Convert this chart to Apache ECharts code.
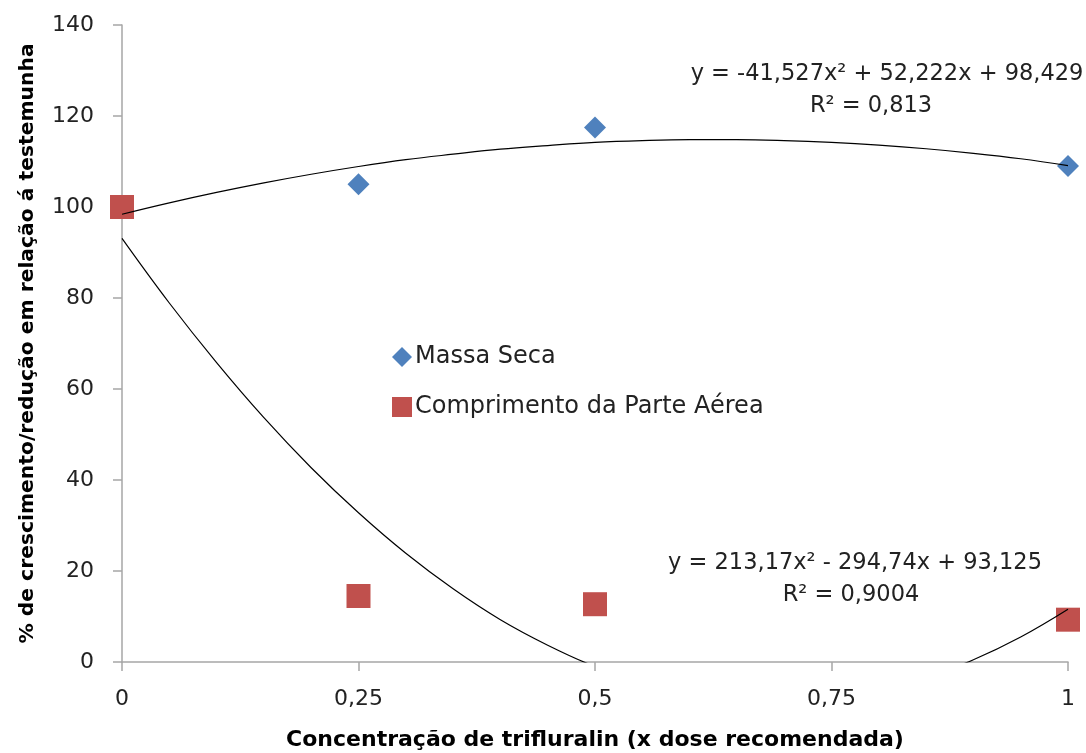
<!DOCTYPE html>
<html>
<head>
<meta charset="utf-8">
<script src="https://cdn.jsdelivr.net/npm/echarts@6/dist/echarts.min.js"></script>
<style>
html,body{margin:0;padding:0;background:#fff;}
#chart{width:1086px;height:753px;}
</style>
</head>
<body>
<div id="chart"></div>
<script>
// Observed points
const doses = [0, 0.25, 0.5, 1];
const massaSeca = [100, 105, 117.5, 109];
const comprimento = [100, 14.5, 12.7, 9.3];

// Trend curves
const trendX = [0, 0.05, 0.1, 0.15, 0.2, 0.25, 0.3, 0.35, 0.4, 0.45, 0.5, 0.55, 0.6, 0.65, 0.7, 0.75, 0.8, 0.85, 0.9, 0.95, 1];
const massaTrend = [98.4, 100.9, 103.2, 105.3, 107.2, 108.9, 110.4, 111.6, 112.7, 113.5, 114.2, 114.6, 114.8, 114.8, 114.6, 114.2, 113.6, 112.8, 111.8, 110.6, 109.1];
const compTrend = [93.1, 78.9, 65.8, 53.7, 42.7, 32.8, 23.9, 16.1, 9.3, 3.7, -1.0, -4.5, -7.0, -8.4, -8.7, -8.0, -6.2, -3.4, 0.5, 5.5, 11.6];

// Axis ticks
const xTicks = [0, 0.25, 0.5, 0.75, 1];
const xTickLabels = ['0', '0,25', '0,5', '0,75', '1'];
const yTicks = [0, 20, 40, 60, 80, 100, 120, 140];

// Texts
const eq1 = 'y = -41,527x² + 52,222x + 98,429';
const r1 = 'R² = 0,813';
const eq2 = 'y = 213,17x² - 294,74x + 93,125';
const r2 = 'R² = 0,9004';

const FONT = '"DejaVu Sans", "Open Sans", sans-serif';
const TXT = '#222222';
const chart = echarts.init(document.getElementById('chart'), null, {renderer: 'canvas'});

const zip = (xs, ys) => xs.map((x, i) => [x, ys[i]]);

chart.setOption({
  backgroundColor: '#ffffff',
  animation: false,
  grid: {left: 122, right: 18, top: 25, bottom: 91, containLabel: false, outerBoundsMode: 'none'},
  legend: {
    data: [
      {name: 'Massa Seca', icon: 'diamond'},
      {name: 'Comprimento da Parte Aérea', icon: 'rect'}
    ],
    orient: 'vertical',
    left: 387,
    top: 338,
    itemGap: 22,
    itemWidth: 20,
    itemHeight: 20,
    textStyle: {fontFamily: FONT, fontSize: 24, lineHeight: 28, color: TXT, padding: [0, 0, 0, -2]}
  },
  xAxis: {
    type: 'value',
    min: 0, max: 1, interval: 0.25,
    name: 'Concentração de trifluralin (x dose recomendada)',
    nameLocation: 'middle',
    nameGap: 67,
    nameTextStyle: {fontFamily: FONT, fontSize: 22, fontWeight: 'bold', color: '#000'},
    axisLine: {show: true, lineStyle: {color: '#a6a6a6', width: 1.5}},
    axisTick: {show: true, length: 9, lineStyle: {color: '#a6a6a6', width: 1.5}},
    axisLabel: {
      margin: 26, fontFamily: FONT, fontSize: 22, color: TXT,
      formatter: v => { const i = xTicks.findIndex(t => Math.abs(t - v) < 1e-9); return i >= 0 ? xTickLabels[i] : ''; }
    },
    splitLine: {show: false}
  },
  yAxis: {
    type: 'value',
    min: yTicks[0], max: yTicks[yTicks.length - 1], interval: 20,
    name: '% de crescimento/redução em relação á testemunha',
    nameLocation: 'middle',
    nameGap: 84,
    nameRotate: 90,
    nameTextStyle: {fontFamily: FONT, fontSize: 20.3, fontWeight: 'bold', color: '#000'},
    axisLine: {show: true, lineStyle: {color: '#a6a6a6', width: 1.5}},
    axisTick: {show: true, length: 9, lineStyle: {color: '#a6a6a6', width: 1.5}},
    axisLabel: {margin: 28, fontFamily: FONT, fontSize: 22, color: TXT},
    splitLine: {show: false}
  },
  series: [
    {
      name: 'trend massa', type: 'line', data: zip(trendX, massaTrend),
      smooth: 0.4, showSymbol: false, symbol: 'none', clip: true,
      lineStyle: {color: '#000', width: 1.2}, z: 3, silent: true
    },
    {
      name: 'trend comp', type: 'line', data: zip(trendX, compTrend),
      smooth: 0.4, showSymbol: false, symbol: 'none', clip: true,
      lineStyle: {color: '#000', width: 1.2}, z: 3, silent: true
    },
    {
      name: 'Massa Seca', type: 'scatter', data: zip(doses, massaSeca),
      symbol: 'diamond', symbolSize: 22,
      itemStyle: {color: '#4F81BD', opacity: 1}, z: 2
    },
    {
      name: 'Comprimento da Parte Aérea', type: 'scatter', data: zip(doses, comprimento),
      symbol: 'rect', symbolSize: 24,
      itemStyle: {color: '#C0504D', opacity: 1}, z: 2
    }
  ],
  graphic: [
    {type: 'text', style: {text: eq1, x: 887, y: 74, align: 'center', verticalAlign: 'middle', fontFamily: FONT, fontSize: 22.5, fill: TXT}},
    {type: 'text', style: {text: r1, x: 871, y: 106, align: 'center', verticalAlign: 'middle', fontFamily: FONT, fontSize: 22.5, fill: TXT}},
    {type: 'text', style: {text: eq2, x: 855, y: 563, align: 'center', verticalAlign: 'middle', fontFamily: FONT, fontSize: 22.5, fill: TXT}},
    {type: 'text', style: {text: r2, x: 851, y: 595, align: 'center', verticalAlign: 'middle', fontFamily: FONT, fontSize: 22.5, fill: TXT}}
  ]
});
</script>
</body>
</html>
